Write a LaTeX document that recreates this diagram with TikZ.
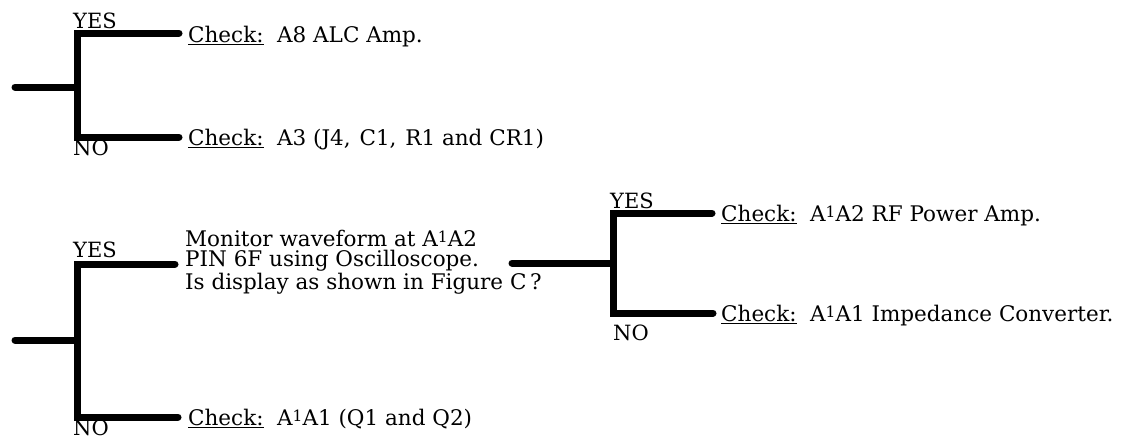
\documentclass[tikz,border=0pt]{standalone}
\usepackage{fontspec}
\setmainfont{DejaVu Serif}
\newcommand{\upone}{\raisebox{0.35ex}{\fontsize{15.5}{15.5}\selectfont 1}}
\newcommand{\chk}{\underline{Check:}\ \ }
\begin{document}
\begin{tikzpicture}[x=1pt,y=-1pt,
  branch/.style={line width=7pt, line cap=round, line join=miter},
  txt/.style={anchor=base west, inner sep=0pt, font=\fontsize{21.5}{20.5}\selectfont},
  lbl/.style={anchor=base west, inner sep=0pt, font=\fontsize{21}{21}\selectfont}]
\useasboundingbox (0,0) rectangle (1132,445);
% tree 1
\coordinate (s1) at (15,87);
\coordinate (j1) at (77,87);
\coordinate (e1a) at (179,33);
\coordinate (e1b) at (179,137);
\node[txt] (t1a) at (188,42) {\chk A8 ALC Amp.};
\node[txt] (t1b) at (188,145) {\chk A3 (J4,\hspace{2pt} C1,\hspace{2pt} R1 and CR1)};
\node[lbl] (y1) at (73,28) {YES};
\node[lbl] (n1) at (73,155) {NO};
\draw[branch] (s1) -- (j1);
\draw[branch] (e1a) -| (j1) |- (e1b);
% tree 2
\coordinate (s2) at (15,340);
\coordinate (j2) at (77,340);
\coordinate (e2a) at (175,264);
\coordinate (e2b) at (178,417);
\node[txt, align=left] (t2a) at (185,289) {Monitor waveform at A\upone A2\\PIN 6F using Oscilloscope.\\Is display as shown in Figure C\,?};
\node[txt] (t2b) at (188,425) {\chk A\upone A1 (Q1 and Q2)};
\node[lbl] (y2) at (73,257) {YES};
\node[lbl] (n2) at (73,435) {NO};
\draw[branch] (s2) -- (j2);
\draw[branch] (e2a) -| (j2) |- (e2b);
% tree 3
\coordinate (s3) at (512,263);
\coordinate (j3) at (613,263);
\coordinate (e3a) at (712,213);
\coordinate (e3b) at (713,313);
\node[txt] (t3a) at (721,221) {\chk A\upone A2 RF Power Amp.};
\node[txt] (t3b) at (721,321) {\chk A\upone A1 Impedance Converter.};
\node[lbl] (y3) at (610,208) {YES};
\node[lbl] (n3) at (613,340) {NO};
\draw[branch] (s3) -- (j3);
\draw[branch] (e3a) -| (j3) |- (e3b);
\end{tikzpicture}
\end{document}
